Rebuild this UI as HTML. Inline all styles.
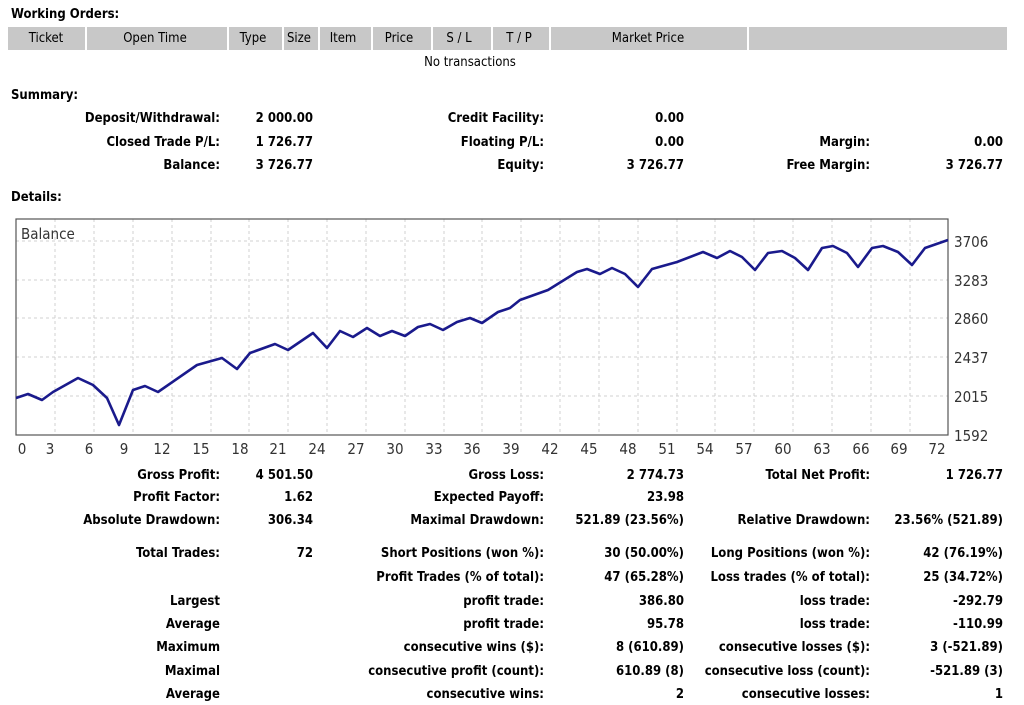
<!DOCTYPE html>
<html><head><meta charset="utf-8"><style>
body{margin:0;width:1024px;height:705px;background:#fff;font-family:"DejaVu Sans Condensed","Liberation Sans",sans-serif;font-size:13px;color:#000;position:relative;overflow:hidden}
.t{position:absolute;white-space:nowrap;line-height:14px}
.b{font-weight:bold}
.hdr{position:absolute;left:8px;top:27px;width:999px;height:23px;background:#c8c8c8}
.dv{position:absolute;top:27px;height:23px;width:2px;background:#fff}
.hc{position:absolute;top:31px;transform:translateX(-50%);white-space:nowrap}
</style></head><body>
<div class="t b" style="left:11px;top:8px">Working Orders:</div>
<div class="hdr"></div>
<div class="dv" style="left:85px"></div><div class="dv" style="left:227px"></div><div class="dv" style="left:282px"></div><div class="dv" style="left:318px"></div><div class="dv" style="left:371px"></div><div class="dv" style="left:431px"></div><div class="dv" style="left:491px"></div><div class="dv" style="left:549px"></div><div class="dv" style="left:747px"></div>
<div class="hc" style="left:46px">Ticket</div><div class="hc" style="left:155px">Open Time</div><div class="hc" style="left:253px">Type</div><div class="hc" style="left:299px">Size</div><div class="hc" style="left:343px">Item</div><div class="hc" style="left:399px">Price</div><div class="hc" style="left:459px">S / L</div><div class="hc" style="left:519px">T / P</div><div class="hc" style="left:648px">Market Price</div>
<div class="hc" style="left:470px;top:55px">No transactions</div>
<div class="t b" style="left:11px;top:89px">Summary:</div>
<div class="t b" style="left:11px;top:191px">Details:</div>

<svg style="position:absolute;left:0;top:0" width="1024" height="705">
<g stroke="#d0d0d0" stroke-dasharray="3,3" stroke-width="1">
<line x1="16" x2="948" y1="241" y2="241"/><line x1="16" x2="948" y1="280" y2="280"/><line x1="16" x2="948" y1="318" y2="318"/><line x1="16" x2="948" y1="357" y2="357"/><line x1="16" x2="948" y1="396" y2="396"/>
<line x1="55" x2="55" y1="219" y2="435"/><line x1="94" x2="94" y1="219" y2="435"/><line x1="133" x2="133" y1="219" y2="435"/><line x1="172" x2="172" y1="219" y2="435"/><line x1="211" x2="211" y1="219" y2="435"/><line x1="249" x2="249" y1="219" y2="435"/><line x1="288" x2="288" y1="219" y2="435"/><line x1="327" x2="327" y1="219" y2="435"/><line x1="366" x2="366" y1="219" y2="435"/><line x1="405" x2="405" y1="219" y2="435"/><line x1="444" x2="444" y1="219" y2="435"/><line x1="482" x2="482" y1="219" y2="435"/><line x1="521" x2="521" y1="219" y2="435"/><line x1="560" x2="560" y1="219" y2="435"/><line x1="599" x2="599" y1="219" y2="435"/><line x1="638" x2="638" y1="219" y2="435"/><line x1="677" x2="677" y1="219" y2="435"/><line x1="715" x2="715" y1="219" y2="435"/><line x1="754" x2="754" y1="219" y2="435"/><line x1="793" x2="793" y1="219" y2="435"/><line x1="832" x2="832" y1="219" y2="435"/><line x1="871" x2="871" y1="219" y2="435"/><line x1="910" x2="910" y1="219" y2="435"/>
</g>
<rect x="16" y="219" width="932" height="216" fill="none" stroke="#555" stroke-width="1.2"/>
<polyline fill="none" stroke="#1a1a8c" stroke-width="2.6" stroke-linejoin="round" points="16,398 28,394 42,400 53,392 78,378 93,385 107,398 119,425 133,390 145,386 158,392 197,365 222,358 237,369 250,353 275,344 288,350 313,333 327,348 340,331 353,337 367,328 380,336 392,331 405,336 418,327 430,324 443,330 457,322 470,318 482,323 498,312 510,308 520,300 548,290 577,272 587,269 600,274 612,268 625,274 638,287 652,269 677,262 703,252 717,258 730,251 742,257 755,270 768,253 782,251 795,258 808,270 822,248 833,246 847,253 858,267 872,248 883,246 898,252 912,265 925,248 948,240"/>
<g font-family="DejaVu Sans Condensed,Liberation Sans,sans-serif" font-size="15" fill="#333">
<text x="21" y="239">Balance</text>
<text x="954" y="247">3706</text><text x="954" y="286">3283</text><text x="954" y="324">2860</text><text x="954" y="363">2437</text><text x="954" y="402">2015</text><text x="954" y="441">1592</text>
<g text-anchor="middle"><text x="22" y="454">0</text><text x="50" y="454">3</text><text x="89" y="454">6</text><text x="124" y="454">9</text><text x="162" y="454">12</text><text x="201" y="454">15</text><text x="240" y="454">18</text><text x="278" y="454">21</text><text x="317" y="454">24</text><text x="356" y="454">27</text><text x="395" y="454">30</text><text x="434" y="454">33</text><text x="472" y="454">36</text><text x="511" y="454">39</text><text x="550" y="454">42</text><text x="589" y="454">45</text><text x="628" y="454">48</text><text x="667" y="454">51</text><text x="705" y="454">54</text><text x="744" y="454">57</text><text x="783" y="454">60</text><text x="822" y="454">63</text><text x="861" y="454">66</text><text x="899" y="454">69</text><text x="937" y="454">72</text></g>
</g>
<g font-family="DejaVu Sans Condensed,Liberation Sans,sans-serif" font-size="13" font-weight="bold" text-anchor="end">
<text x="220" y="122">Deposit/Withdrawal:</text><text x="313" y="122">2 000.00</text><text x="544" y="122">Credit Facility:</text><text x="684" y="122">0.00</text>
<text x="220" y="146">Closed Trade P/L:</text><text x="313" y="146">1 726.77</text><text x="544" y="146">Floating P/L:</text><text x="684" y="146">0.00</text><text x="870" y="146">Margin:</text><text x="1003" y="146">0.00</text>
<text x="220" y="169">Balance:</text><text x="313" y="169">3 726.77</text><text x="544" y="169">Equity:</text><text x="684" y="169">3 726.77</text><text x="870" y="169">Free Margin:</text><text x="1003" y="169">3 726.77</text>
<text x="220" y="479">Gross Profit:</text><text x="313" y="479">4 501.50</text><text x="544" y="479">Gross Loss:</text><text x="684" y="479">2 774.73</text><text x="870" y="479">Total Net Profit:</text><text x="1003" y="479">1 726.77</text>
<text x="220" y="501">Profit Factor:</text><text x="313" y="501">1.62</text><text x="544" y="501">Expected Payoff:</text><text x="684" y="501">23.98</text>
<text x="220" y="524">Absolute Drawdown:</text><text x="313" y="524">306.34</text><text x="544" y="524">Maximal Drawdown:</text><text x="684" y="524">521.89 (23.56%)</text><text x="870" y="524">Relative Drawdown:</text><text x="1003" y="524">23.56% (521.89)</text>
<text x="220" y="557">Total Trades:</text><text x="313" y="557">72</text><text x="544" y="557">Short Positions (won %):</text><text x="684" y="557">30 (50.00%)</text><text x="870" y="557">Long Positions (won %):</text><text x="1003" y="557">42 (76.19%)</text>
<text x="544" y="581">Profit Trades (% of total):</text><text x="684" y="581">47 (65.28%)</text><text x="870" y="581">Loss trades (% of total):</text><text x="1003" y="581">25 (34.72%)</text>
<text x="220" y="605">Largest</text><text x="544" y="605">profit trade:</text><text x="684" y="605">386.80</text><text x="870" y="605">loss trade:</text><text x="1003" y="605">-292.79</text>
<text x="220" y="628">Average</text><text x="544" y="628">profit trade:</text><text x="684" y="628">95.78</text><text x="870" y="628">loss trade:</text><text x="1003" y="628">-110.99</text>
<text x="220" y="651">Maximum</text><text x="544" y="651">consecutive wins ($):</text><text x="684" y="651">8 (610.89)</text><text x="870" y="651">consecutive losses ($):</text><text x="1003" y="651">3 (-521.89)</text>
<text x="220" y="675">Maximal</text><text x="544" y="675">consecutive profit (count):</text><text x="684" y="675">610.89 (8)</text><text x="870" y="675">consecutive loss (count):</text><text x="1003" y="675">-521.89 (3)</text>
<text x="220" y="698">Average</text><text x="544" y="698">consecutive wins:</text><text x="684" y="698">2</text><text x="870" y="698">consecutive losses:</text><text x="1003" y="698">1</text>
</g>
</svg>
</body></html>
